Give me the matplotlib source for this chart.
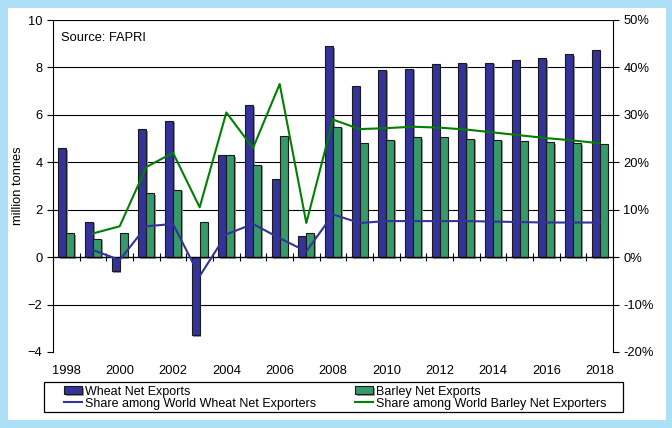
import numpy as np
import matplotlib
matplotlib.use("Agg")
from matplotlib import pyplot as plt
from matplotlib import patheffects
from matplotlib.patches import Rectangle
from matplotlib.ticker import FuncFormatter

plt.rcParams['font.family'] = ['Liberation Sans', 'DejaVu Sans']

years = list(range(1998, 2019))
wheat = [4.6, 1.5, -0.6, 5.4, 5.75, -3.3, 4.3, 6.4, 3.3, 0.9, 8.9,
         7.2, 7.9, 7.95, 8.15, 8.2, 8.2, 8.3, 8.4, 8.55, 8.75]
barley = [1.0, 0.78, 1.0, 2.7, 2.85, 1.5, 4.3, 3.9, 5.1, 1.0, 5.5,
          4.8, 4.95, 5.05, 5.05, 5.0, 4.95, 4.9, 4.85, 4.8, 4.78]
# shares in %, no value for 1998
wheat_share = [np.nan, 1.5, -0.6, 6.5, 7.0, -4.0, 4.8, 7.0, 4.0, 1.2, 9.0,
               7.2, 7.6, 7.6, 7.6, 7.6, 7.5, 7.4, 7.3, 7.3, 7.3]
barley_share = [np.nan, 5.0, 6.5, 19.0, 22.0, 10.5, 30.5, 23.0, 36.5, 7.2, 29.0,
                27.0, 27.2, 27.5, 27.3, 26.9, 26.3, 25.7, 25.1, 24.6, 24.0]

W, H = 672, 428
fs = 9.3
fig = plt.figure(figsize=(W / 100, H / 100), dpi=100, facecolor='#ade0f7')

# white panel inside the blue border
bg = fig.add_axes([8 / W, 8 / H, 658 / W, 412 / H], zorder=-1)
bg.set_facecolor('white')
bg.set_xticks([])
bg.set_yticks([])
for s in bg.spines.values():
    s.set_visible(False)

ax = fig.add_axes([53 / W, 76 / H, 560 / W, 332 / H])
ax.set_facecolor('none')
x = np.arange(len(years))
bw = 0.3
shadow = [patheffects.SimplePatchShadow(offset=(1.2, -1.2), shadow_rgbFace='#9a9a9a', alpha=1),
          patheffects.Normal()]
b1 = ax.bar(x - bw / 2, wheat, bw, color='#333399', edgecolor='#1a1a1a', lw=0.8, zorder=3,
            label='Wheat Net Exports')
b2 = ax.bar(x + bw / 2, barley, bw, color='#36996a', edgecolor='#1a1a1a', lw=0.8, zorder=3,
            label='Barley Net Exports')
for p in list(b1) + list(b2):
    p.set_path_effects(shadow)
ax.set_xlim(-0.5, len(years) - 0.5)
ax.set_ylim(-4, 10)
ax.set_yticks(range(-4, 11, 2))
for yv in range(-2, 11, 2):
    ax.axhline(yv, color='black', lw=0.8, zorder=0)
ax.axhline(0, color='black', lw=0.9, zorder=4)
ax.plot(np.arange(len(years) + 1) - 0.5, np.zeros(len(years) + 1), ls='none', marker='|',
        ms=6, mew=0.8, color='black', zorder=4, clip_on=False)
ax.set_xticks(x[::2])
ax.set_xticklabels([str(y) for y in years[::2]])
ax.tick_params(axis='x', length=0, pad=9, labelsize=fs)
ax.tick_params(axis='y', length=4, width=0.8, labelsize=fs, color='black')
for s in ['top', 'right', 'bottom']:
    ax.spines[s].set_visible(False)
ax.spines['left'].set_linewidth(0.8)
ax.set_ylabel('million tonnes', fontsize=fs)
ax.yaxis.set_label_coords(-0.051, 0.5)
ax.text(0.015, 0.965, 'Source: FAPRI', transform=ax.transAxes, fontsize=fs, va='top')

ax2 = ax.twinx()
ax2.plot(x, wheat_share, color='#333399', lw=1.5, zorder=5,
         label='Share among World Wheat Net Exporters')
ax2.plot(x, barley_share, color='#008000', lw=1.5, zorder=5,
         label='Share among World Barley Net Exporters')
ax2.set_ylim(-20, 50)
ax2.set_yticks(range(-20, 51, 10))
ax2.yaxis.set_major_formatter(FuncFormatter(lambda v, p: f'{v:.0f}%'))
ax2.tick_params(axis='y', length=4, width=0.8, labelsize=fs)
for s in ['top', 'left', 'bottom']:
    ax2.spines[s].set_visible(False)
ax2.spines['right'].set_linewidth(0.8)

# legend box below the plot
fig.patches.append(Rectangle((44 / W, 1 - 411.5 / H), 579 / W, 30 / H, transform=fig.transFigure,
                             facecolor='white', edgecolor='black', lw=0.9))
h1, l1 = ax.get_legend_handles_labels()
h2, l2 = ax2.get_legend_handles_labels()
handles = [h1[0], h2[0], h1[1], h2[1]]
labels = [l1[0], l2[0], l1[1], l2[1]]
leg = fig.legend(handles, labels, ncol=2, loc='upper left',
                 bbox_to_anchor=(64 / W, 1 - 385.5 / H),
                 fontsize=9.0, frameon=False, borderpad=0, labelspacing=0.0,
                 handlelength=1.45, handleheight=0.6, handletextpad=0.25,
                 columnspacing=3.1, borderaxespad=0)

fig.savefig('out.png', dpi=100, facecolor=fig.get_facecolor())
